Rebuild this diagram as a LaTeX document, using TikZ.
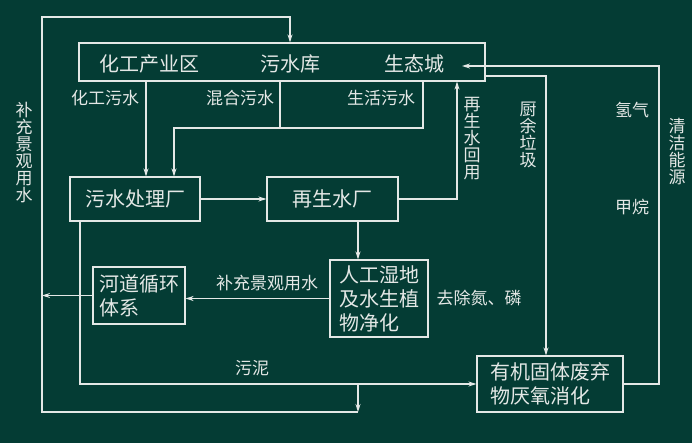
\documentclass[tikz,border=0pt]{standalone}
\usepackage{fontspec}
\newfontfamily\cjk{Noto Sans CJK SC}
\usepackage{tikz}
\usetikzlibrary{arrows.meta}
\definecolor{board}{RGB}{4,60,52}
\definecolor{chalk}{RGB}{228,232,230}

\begin{document}
\begin{tikzpicture}[x=1pt, y=-1pt, line width=1.1pt, draw=chalk, text=chalk, font=\cjk,
  >={Stealth[length=8pt, width=5pt]}]
\tikzstyle{plant}=[rectangle, draw, inner sep=3pt, font=\cjk\fontsize{20}{24}\selectfont]
\tikzstyle{flow}=[font=\cjk\fontsize{17}{17}\selectfont, inner sep=1pt]
\tikzstyle{vflow}=[flow, align=center]

\fill[board] (0,0) rectangle (692,443);
\useasboundingbox (0,0) rectangle (692,443);

\node [plant, minimum width=406, minimum height=38] at (282,62) (top) {};
\node [font=\cjk\fontsize{20}{24}\selectfont] at (149,64) (chem) {化工产业区};
\node [font=\cjk\fontsize{20}{24}\selectfont] at (290,64) (pool) {污水库};
\node [font=\cjk\fontsize{20}{24}\selectfont] at (414,64) (city) {生态城};

\node [plant, minimum width=130, minimum height=44] at (135,199) (wwtp) {污水处理厂};
\node [plant, minimum width=131, minimum height=44] at (332.5,199) (reuse) {再生水厂};
\node [plant, minimum width=98, minimum height=77, align=left] at (379,298.5) (wetland) {人工湿地\\及水生植\\物净化};
\node [plant, minimum width=92, minimum height=57, align=left] at (139,295.5) (river) {河道循环\\体系};
\node [plant, minimum width=146, minimum height=56, align=left] at (550,384) (digest) {有机固体废弃\\物厌氧消化};

% sewage into the plant
\draw [->] (146,0 |- top.south) -- (146,0 |- wwtp.north);
\draw [->] (280,0 |- top.south) -- (280,128) -| (174,0 |- wwtp.north);
\draw (423,0 |- top.south) |- (280,128);
\draw [->] (wwtp.east) -- (reuse.west);
\draw [->] (reuse.east) -| (457,0 |- top.south);
\draw [->] (358,0 |- reuse.south) -- (358,0 |- wetland.north);
\draw [->] (wetland.west) -- (wetland.west -| river.east);

% outer loop
\coordinate (loop) at (42,412);
\draw [->] (river.west) -- (42,0 |- river.west);
\draw [->] (358,384) -- (358,412);
\draw [->] (358,412) -- (loop) -- (42,17) -| (pool.north |- top.north);

% sludge and waste
\draw [->] (80,0 |- wwtp.south) |- (digest.west);
\draw [->] (top.east |- 0,76) -| (546,0 |- digest.north);
\draw [->] (digest.east) -| (659,66) -- (462,66);

\node [flow] at (105,98) (l1) {化工污水};
\node [flow] at (240,98) (l2) {混合污水};
\node [flow] at (381,98) (l3) {生活污水};
\node [vflow] at (472,139) (l4) {再\\生\\水\\回\\用};
\node [vflow] at (528,135) (l5) {厨\\余\\垃\\圾};
\node [flow] at (632,110) (l6) {氢气};
\node [flow] at (632,207) (l7) {甲烷};
\node [vflow] at (677,152) (l8) {清\\洁\\能\\源};
\node [vflow] at (24,153) (l9) {补\\充\\景\\观\\用\\水};
\node [flow] at (267,283) (l10) {补充景观用水};
\node [flow] at (479,298) (l11) {去除氮、磷};
\node [flow] at (252,368) (l12) {污泥};

\end{tikzpicture}
\end{document}
